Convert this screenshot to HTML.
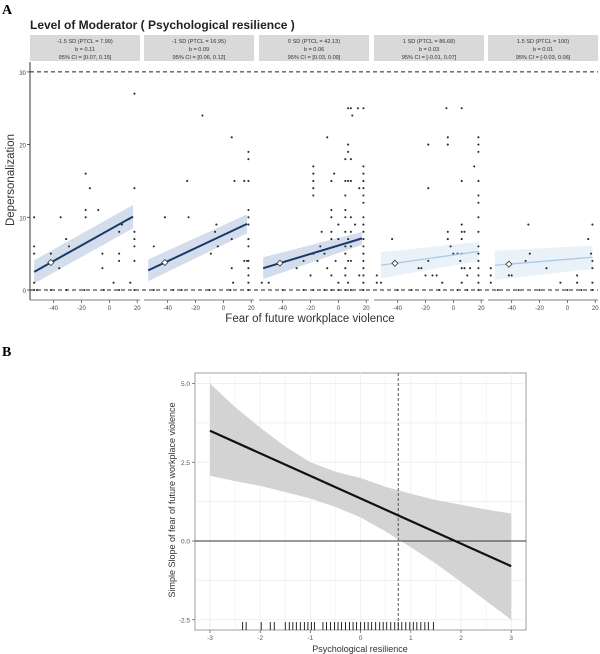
<!DOCTYPE html>
<html><head><meta charset="utf-8"><style>
body{margin:0;background:#fff;}
svg{display:block;font-family:"Liberation Sans",sans-serif;}
</style></head><body>
<svg id="fig" width="600" height="654" viewBox="0 0 600 654">
<text x="2" y="14" font-family="Liberation Serif" font-weight="bold" font-size="14">A</text>
<text x="30" y="29" font-weight="bold" font-size="12" fill="#222">Level of Moderator ( Psychological resilience )</text>
<g id="pa"></g>
<text x="310" y="322" font-size="11.5" fill="#333" text-anchor="middle">Fear of future workplace violence</text>
<text transform="translate(14,180) rotate(-90)" font-size="11.5" fill="#333" text-anchor="middle">Depersonalization</text>
<text x="2" y="356" font-family="Liberation Serif" font-weight="bold" font-size="14">B</text>
<g id="pb"></g>
<text x="360" y="652" font-size="9" fill="#333" text-anchor="middle">Psychological resilience</text>
<text transform="translate(175,500) rotate(-90)" font-size="9" fill="#333" text-anchor="middle">Simple Slope of  fear of future workplace violence</text>
</svg>
<script>
// ---- Panel A data ----
const facetLabels1 = ["-1.5 SD (PTCL = 7.99)","-1 SD (PTCL = 16.95)","0 SD (PTCL = 42.13)","1 SD (PTCL = 86.68)","1.5 SD (PTCL = 100)"];
const facetLabels2 = ["b = 0.11","b = 0.09","b = 0.06","b = 0.03","b = 0.01"];
const facetLabels3 = ["95% CI = [0.07, 0.15]","95% CI = [0.06, 0.12]","95% CI = [0.03, 0.09]","95% CI = [-0.01, 0.07]","95% CI = [-0.03, 0.06]"];
const lineStart = [2.5, 2.7, 3.0, 3.4, 3.4];
const lineEnd = [10.1, 9.1, 7.1, 5.3, 4.5];
const ciStartHalf = [1.6, 1.5, 1.5, 1.8, 2.0];
const ciEndHalf = [1.6, 1.3, 0.9, 1.3, 1.6];
const lineXStart = [-54, -54, -54, -52, -52];
const lineXEnd = [17, 17, 17, 18, 18];
const yTicksA = [0, 10, 20, 30];
const xTicksA = [-40, -20, 0, 20];
const points1 = [[-54,10],[-54,6],[-54,5],[-54,1],[-54,0],[-52,0],[-42,0],[-42,5],[-35,10],[-36,3],[-31,7],[-29,6],[-31,0],[-17,16],[-17,11],[-17,10],[-14,14],[-8,11],[-5,5],[-5,3],[3,1],[7,8],[7,5],[7,4],[7,0],[9,9],[15,1],[18,27],[18,14],[18,8],[18,7],[18,6],[18,4],[18,0],[-18,0],[-4,0]];
const points2 = [[-50,6],[-42,10],[-36,0],[-26,15],[-25,10],[-15,24],[-9,5],[-6,8],[-5,9],[-4,6],[6,21],[6,7],[6,3],[7,1],[8,15],[15,15],[15,4],[17,4],[18,19],[18,18],[18,15],[18,11],[18,10],[18,9],[18,7],[18,6],[18,4],[18,3],[18,2],[18,1],[18,0],[-50,0],[-30,0],[-10,0],[5,0]];
const points3 = [[-55,1],[-50,1],[-30,3],[-25,4],[-20,2],[-18,17],[-18,16],[-18,15],[-18,14],[-18,13],[-18,5],[-18,0],[-15,4],[-13,6],[-12,8],[-10,5],[-8,21],[-8,3],[-5,15],[-5,11],[-5,10],[-5,8],[-5,7],[-5,2],[-5,0],[-3,16],[-2,4],[0,9],[0,7],[0,1],[0,0],[5,18],[5,15],[5,13],[5,11],[5,10],[5,8],[5,6],[5,5],[5,3],[5,2],[5,0],[7,25],[7,20],[7,19],[7,15],[7,7],[7,4],[7,1],[9,25],[9,18],[9,15],[9,10],[9,8],[9,6],[9,4],[9,0],[10,24],[12,9],[14,25],[15,14],[15,7],[15,2],[18,25],[18,17],[18,16],[18,15],[18,14],[18,13],[18,12],[18,10],[18,9],[18,8],[18,7],[18,6],[18,5],[18,4],[18,3],[18,2],[18,1],[18,0],[-40,0],[-25,0],[-10,0]];
const points4 = [[-55,1],[-52,1],[-55,2],[-44,7],[-25,3],[-23,3],[-20,2],[-18,20],[-18,14],[-18,4],[-15,2],[-12,2],[-8,1],[-5,25],[-4,21],[-4,20],[-4,8],[-4,7],[-2,6],[0,5],[3,5],[5,4],[6,25],[6,15],[6,9],[6,8],[6,7],[6,5],[6,3],[6,1],[8,8],[8,3],[10,2],[12,3],[15,17],[18,21],[18,20],[18,19],[18,15],[18,13],[18,12],[18,10],[18,8],[18,6],[18,5],[18,4],[18,3],[18,2],[18,1],[18,0],[-40,0],[-30,0],[-10,0],[3,0],[10,0]];
const points5 = [[-55,3],[-55,1],[-55,2],[-42,2],[-40,2],[-30,4],[-28,9],[-27,5],[-15,3],[-5,1],[7,2],[7,1],[15,7],[17,5],[18,9],[18,4],[18,3],[18,1],[18,0],[-50,0],[-35,0],[-20,0],[0,0],[10,0]];
const allPoints = [points1, points2, points3, points4, points5];
const meanX = -42;

// ---- Panel B data ----
const bX = [-3,3];
const bSlope = [3.5,-0.8];
const bandX = [-3,-2.5,-2,-1.5,-1,-0.5,0,0.5,1,1.5,2,2.5,3];
const bUpper = [5.0,4.25,3.6,3.0,2.5,2.2,2.0,1.72,1.5,1.3,1.15,1.0,0.87];
const bLower = [2.07,1.9,1.75,1.55,1.35,1.08,0.75,0.3,-0.2,-0.72,-1.3,-1.9,-2.5];
const bXTicks = [-3,-2,-1,0,1,2,3];
const bYTicks = [-2.5,0.0,2.5,5.0];
const jnPoint = 0.75;
const rugValues = [-2.35,-2.28,-1.98,-1.8,-1.72,-1.5,-1.42,-1.35,-1.28,-1.2,-1.12,-1.05,-0.98,-0.92,-0.75,-0.68,-0.6,-0.52,-0.45,-0.38,-0.3,-0.22,-0.15,-0.08,0,0.08,0.15,0.22,0.3,0.38,0.45,0.52,0.6,0.68,0.75,0.82,0.9,0.98,1.05,1.12,1.2,1.28,1.35,1.45];

const NS="http://www.w3.org/2000/svg";
function mk(parent,tag,attrs){const e=document.createElementNS(NS,tag);for(const k in attrs)e.setAttribute(k,attrs[k]);parent.appendChild(e);return e;}

// Panel A scales
const pa=document.getElementById('pa');
const facetX0=[30,144,259,374,488], facetW=110;
const xMin=-57, xMax=22;
function ay(v){return 290 - v*7.27;}
function ax(f,v){return facetX0[f] + (v-xMin)/(xMax-xMin)*facetW;}
let yl=mk(pa,'line',{x1:30,x2:30,y1:62,y2:300,stroke:'#333','stroke-width':1});


yTicksA.forEach(t=>{
  let tl=mk(pa,'text',{x:26,y:ay(t)+3,'font-size':6,fill:'#444','text-anchor':'end'});tl.textContent=t;
  
  
  mk(pa,'line',{x1:27,x2:30,y1:ay(t),y2:ay(t),stroke:'#333','stroke-width':0.8});
});
for(let f=0;f<5;f++){
  const x0=facetX0[f];
  let strip=mk(pa,'rect',{x:x0,y:35,width:facetW,height:26,fill:'#d9d9d9'});
  
  
  [facetLabels1[f],facetLabels2[f],facetLabels3[f]].forEach((s,i)=>{
    let t=mk(pa,'text',{x:x0+facetW/2,y:43+i*8,'font-size':5.6,fill:'#333','text-anchor':'middle'});t.textContent=s;
    
    
  });
  let xa=mk(pa,'line',{x1:x0,x2:x0+facetW,y1:300,y2:300,stroke:'#999','stroke-width':1.2});
  
  
  xTicksA.forEach(t=>{
    mk(pa,'line',{x1:ax(f,t),x2:ax(f,t),y1:300,y2:303,stroke:'#555','stroke-width':0.8});
    let tl=mk(pa,'text',{x:ax(f,t),y:310,'font-size':6,fill:'#444','text-anchor':'middle'});tl.textContent=t;
    
    
  });
  const dark=f<3, col=dark?'#1a3a6b':'#a9c9e6', band=dark?'#c9d4e6':'#e4edf7';
  const xs=lineXStart[f], xe=lineXEnd[f];
  const ci=mk(pa,'polygon',{points:`${ax(f,xs)},${ay(lineStart[f]+ciStartHalf[f])} ${ax(f,xe)},${ay(lineEnd[f]+ciEndHalf[f])} ${ax(f,xe)},${ay(lineEnd[f]-ciEndHalf[f])} ${ax(f,xs)},${ay(lineStart[f]-ciStartHalf[f])}`,fill:band,opacity:0.8});
  
  
  allPoints[f].forEach(p=>{
    let c=mk(pa,'circle',{cx:ax(f,p[0]),cy:ay(p[1]),r:1.05,fill:'#2a2a2a'});
    
    
  });
  const ln=mk(pa,'line',{x1:ax(f,xs),y1:ay(lineStart[f]),x2:ax(f,xe),y2:ay(lineEnd[f]),stroke:col,'stroke-width':dark?2:1.3});
  
  
  const my=lineStart[f]+(lineEnd[f]-lineStart[f])*(meanX-xs)/(xe-xs);
  const mx=ax(f,meanX), myy=ay(my);
  const dm=mk(pa,'polygon',{points:`${mx},${myy-3} ${mx+3},${myy} ${mx},${myy+3} ${mx-3},${myy}`,fill:'#fff',stroke:'#333','stroke-width':0.8});
  
  
}
[0,30].forEach(v=>{
  let d=mk(pa,'line',{x1:30,x2:598,y1:ay(v),y2:ay(v),stroke:'#222','stroke-width':1,'stroke-dasharray':'4,3'});
  
  
});

// Panel B
const pb=document.getElementById('pb');
function bx(v){return 210+(v+3)*50.2;}
function by(v){return 541-v*31.5;}
let frame=mk(pb,'rect',{x:195,y:373,width:331,height:257,fill:'#fff',stroke:'#888','stroke-width':0.8});


for(let v=-3;v<=3;v+=0.5){mk(pb,'line',{x1:bx(v),x2:bx(v),y1:373,y2:630,stroke:'#ececec','stroke-width':Number.isInteger(v)?0.8:0.5});}
for(let v=-2.5;v<=5;v+=1.25){mk(pb,'line',{x1:195,x2:526,y1:by(v),y2:by(v),stroke:'#ececec','stroke-width':0.7});}
let band='';
bandX.forEach((x,i)=>band+=`${bx(x)},${by(bUpper[i])} `);
for(let i=bandX.length-1;i>=0;i--)band+=`${bx(bandX[i])},${by(bLower[i])} `;
let bp=mk(pb,'polygon',{points:band,fill:'#d3d3d3'});


let z=mk(pb,'line',{x1:195,x2:526,y1:by(0),y2:by(0),stroke:'#333','stroke-width':1});


let jn=mk(pb,'line',{x1:bx(jnPoint),x2:bx(jnPoint),y1:373,y2:630,stroke:'#555','stroke-width':1,'stroke-dasharray':'3,2'});


let sl=mk(pb,'polyline',{points:bX.map((x,i)=>`${bx(x)},${by(bSlope[i])}`).join(' '),fill:'none',stroke:'#111','stroke-width':2.2});


rugValues.forEach(v=>{
  let r=mk(pb,'line',{x1:bx(v),x2:bx(v),y1:622,y2:630,stroke:'#111','stroke-width':0.9});
  
  
});
bXTicks.forEach(t=>{
  mk(pb,'line',{x1:bx(t),x2:bx(t),y1:630,y2:633,stroke:'#555','stroke-width':0.7});
  let tl=mk(pb,'text',{x:bx(t),y:640,'font-size':6.5,fill:'#555','text-anchor':'middle'});tl.textContent=t;
  
  
});
bYTicks.forEach(t=>{
  mk(pb,'line',{x1:192,x2:195,y1:by(t),y2:by(t),stroke:'#555','stroke-width':0.7});
  let tl=mk(pb,'text',{x:190,y:by(t)+2.5,'font-size':6.5,fill:'#555','text-anchor':'end'});tl.textContent=t.toFixed(1);
  
  
});
</script>
</body></html>
